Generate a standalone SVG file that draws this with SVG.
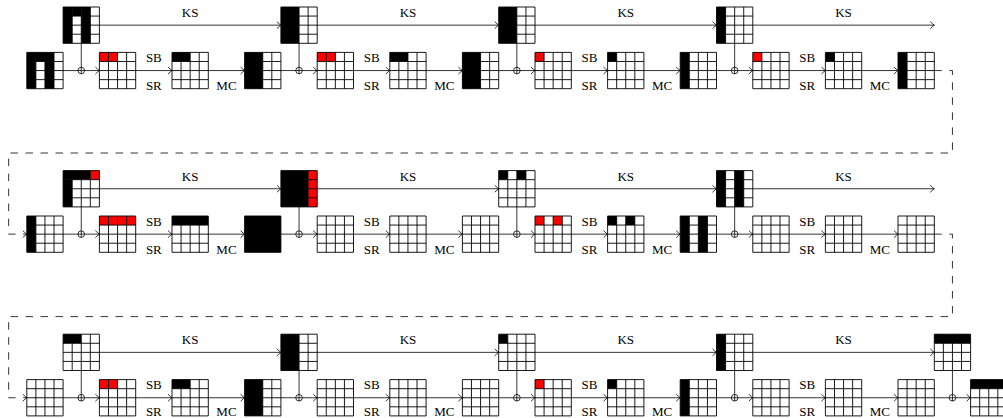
<svg xmlns="http://www.w3.org/2000/svg" xmlns:xlink="http://www.w3.org/1999/xlink" width="1003" height="418" viewBox="0 0 1003 418">
<style>
.b{fill:#000}
.r{fill:#f00}
.c{fill:none;stroke:#000;stroke-width:0.8}
.a{marker-end:url(#ah)}
.d{fill:none;stroke:#000;stroke-width:0.8;stroke-dasharray:7.5 7.5}
.x{fill:none;stroke:#000;stroke-width:0.8}
text{font-family:"Liberation Serif","DejaVu Serif",serif;font-size:13px;text-anchor:middle;fill:#000}
</style>
<defs>
<marker id="ah" markerUnits="userSpaceOnUse" markerWidth="10" markerHeight="10" viewBox="-5 -5 10 10" refX="0" refY="0" orient="auto" overflow="visible">
<path d="M-4,-3.5 Q-1.3,-0.8 0,0 Q-1.3,0.8 -4,3.5" fill="none" stroke="#000" stroke-width="0.8"/>
</marker>
<path id="grid" fill="none" stroke="#000" stroke-width="0.9" d="M0,0H36.3V36.3H0Z M9.075,0V36.3 M18.15,0V36.3 M27.225,0V36.3 M0,9.075H36.3 M0,18.15H36.3 M0,27.225H36.3"/>
</defs>
<rect width="1003" height="418" fill="#fff"/>

<g id="connectors">
<g class="c a">
<path d="M63.1,70.55H99.4"/><path d="M135.7,70.55H172"/><path d="M208.3,70.55H244.6"/><path d="M99.4,25.15H280.9"/>
<path d="M280.9,70.55H317.2"/><path d="M353.5,70.55H389.8"/><path d="M426.1,70.55H462.4"/><path d="M317.2,25.15H498.7"/>
<path d="M498.7,70.55H535"/><path d="M571.3,70.55H607.6"/><path d="M643.9,70.55H680.2"/><path d="M535,25.15H716.5"/>
<path d="M716.5,70.55H752.8"/><path d="M789.1,70.55H825.4"/><path d="M861.7,70.55H898"/><path d="M752.8,25.15H934.3"/>

<path d="M63.1,234.15H99.4"/><path d="M135.7,234.15H172"/><path d="M208.3,234.15H244.6"/><path d="M99.4,188.75H280.9"/>
<path d="M280.9,234.15H317.2"/><path d="M353.5,234.15H389.8"/><path d="M426.1,234.15H462.4"/><path d="M317.2,188.75H498.7"/>
<path d="M498.7,234.15H535"/><path d="M571.3,234.15H607.6"/><path d="M643.9,234.15H680.2"/><path d="M535,188.75H716.5"/>
<path d="M716.5,234.15H752.8"/><path d="M789.1,234.15H825.4"/><path d="M861.7,234.15H898"/><path d="M752.8,188.75H934.3"/>

<path d="M63.1,397.75H99.4"/><path d="M135.7,397.75H172"/><path d="M208.3,397.75H244.6"/><path d="M99.4,352.35H280.9"/>
<path d="M280.9,397.75H317.2"/><path d="M353.5,397.75H389.8"/><path d="M426.1,397.75H462.4"/><path d="M317.2,352.35H498.7"/>
<path d="M498.7,397.75H535"/><path d="M571.3,397.75H607.6"/><path d="M643.9,397.75H680.2"/><path d="M535,352.35H716.5"/>
<path d="M716.5,397.75H752.8"/><path d="M789.1,397.75H825.4"/><path d="M861.7,397.75H898"/><path d="M752.8,352.35H934.3"/>
<path d="M934.3,397.75H970.6"/>
</g>
<g class="c">
<path d="M81.25,43.3V73.85"/><path d="M299.05,43.3V73.85"/><path d="M516.85,43.3V73.85"/><path d="M734.65,43.3V73.85"/>
<path d="M81.25,206.9V237.45"/><path d="M299.05,206.9V237.45"/><path d="M516.85,206.9V237.45"/><path d="M734.65,206.9V237.45"/>
<path d="M81.25,370.5V401.05"/><path d="M299.05,370.5V401.05"/><path d="M516.85,370.5V401.05"/><path d="M734.65,370.5V401.05"/>
<path d="M952.45,370.5V401.05"/>
</g>
<g class="x">
<circle cx="81.25" cy="70.55" r="3.3"/><circle cx="299.05" cy="70.55" r="3.3"/><circle cx="516.85" cy="70.55" r="3.3"/><circle cx="734.65" cy="70.55" r="3.3"/>
<circle cx="81.25" cy="234.15" r="3.3"/><circle cx="299.05" cy="234.15" r="3.3"/><circle cx="516.85" cy="234.15" r="3.3"/><circle cx="734.65" cy="234.15" r="3.3"/>
<circle cx="81.25" cy="397.75" r="3.3"/><circle cx="299.05" cy="397.75" r="3.3"/><circle cx="516.85" cy="397.75" r="3.3"/><circle cx="734.65" cy="397.75" r="3.3"/>
<circle cx="952.45" cy="397.75" r="3.3"/>
</g>
<path class="d a" d="M934.3,70.55H952.45V153H8.65V234.15H26.8"/>
<path class="d a" d="M934.3,234.15H952.45V316.6H8.65V397.75H26.8"/>
</g>

<g id="labels">
<text x="190.15" y="17">KS</text><text x="407.95" y="17">KS</text><text x="625.75" y="17">KS</text><text x="843.55" y="17">KS</text>
<text x="153.85" y="62">SB</text><text x="371.65" y="62">SB</text><text x="589.45" y="62">SB</text><text x="807.25" y="62">SB</text>
<text x="153.85" y="90">SR</text><text x="371.65" y="90">SR</text><text x="589.45" y="90">SR</text><text x="807.25" y="90">SR</text>
<text x="226.45" y="90">MC</text><text x="444.25" y="90">MC</text><text x="662.05" y="90">MC</text><text x="879.85" y="90">MC</text>

<text x="190.15" y="180.6">KS</text><text x="407.95" y="180.6">KS</text><text x="625.75" y="180.6">KS</text><text x="843.55" y="180.6">KS</text>
<text x="153.85" y="225.6">SB</text><text x="371.65" y="225.6">SB</text><text x="589.45" y="225.6">SB</text><text x="807.25" y="225.6">SB</text>
<text x="153.85" y="253.6">SR</text><text x="371.65" y="253.6">SR</text><text x="589.45" y="253.6">SR</text><text x="807.25" y="253.6">SR</text>
<text x="226.45" y="253.6">MC</text><text x="444.25" y="253.6">MC</text><text x="662.05" y="253.6">MC</text><text x="879.85" y="253.6">MC</text>

<text x="190.15" y="344.2">KS</text><text x="407.95" y="344.2">KS</text><text x="625.75" y="344.2">KS</text><text x="843.55" y="344.2">KS</text>
<text x="153.85" y="389.2">SB</text><text x="371.65" y="389.2">SB</text><text x="589.45" y="389.2">SB</text><text x="807.25" y="389.2">SB</text>
<text x="153.85" y="416">SR</text><text x="371.65" y="416">SR</text><text x="589.45" y="416">SR</text><text x="807.25" y="416">SR</text>
<text x="226.45" y="416">MC</text><text x="444.25" y="416">MC</text><text x="662.05" y="416">MC</text><text x="879.85" y="416">MC</text>
</g>

<!-- Row 1 -->
<g id="r1-s0" transform="translate(26.8,52.4)"><rect class="b" width="9.075" height="36.3"/><rect class="b" x="18.15" width="9.075" height="36.3"/><rect class="b" x="9.075" width="9.075" height="9.075"/><use xlink:href="#grid"/></g>
<g id="r1-k0" transform="translate(63.1,7)"><rect class="b" width="9.075" height="36.3"/><rect class="b" x="18.15" width="9.075" height="36.3"/><rect class="b" x="9.075" width="9.075" height="9.075"/><use xlink:href="#grid"/></g>
<g id="r1-x0" transform="translate(99.4,52.4)"><rect class="r" width="18.15" height="9.075"/><use xlink:href="#grid"/></g>
<g id="r1-sb0" transform="translate(172,52.4)"><rect class="b" width="18.15" height="9.075"/><use xlink:href="#grid"/></g>
<g id="r1-mc0" transform="translate(244.6,52.4)"><rect class="b" width="18.15" height="36.3"/><use xlink:href="#grid"/></g>
<g id="r1-k1" transform="translate(280.9,7)"><rect class="b" width="18.15" height="36.3"/><use xlink:href="#grid"/></g>
<g id="r1-x1" transform="translate(317.2,52.4)"><rect class="r" width="18.15" height="9.075"/><use xlink:href="#grid"/></g>
<g id="r1-sb1" transform="translate(389.8,52.4)"><rect class="b" width="18.15" height="9.075"/><use xlink:href="#grid"/></g>
<g id="r1-mc1" transform="translate(462.4,52.4)"><rect class="b" width="18.15" height="36.3"/><use xlink:href="#grid"/></g>
<g id="r1-k2" transform="translate(498.7,7)"><rect class="b" width="18.15" height="36.3"/><use xlink:href="#grid"/></g>
<g id="r1-x2" transform="translate(535,52.4)"><rect class="r" width="9.075" height="9.075"/><use xlink:href="#grid"/></g>
<g id="r1-sb2" transform="translate(607.6,52.4)"><rect class="b" width="9.075" height="9.075"/><use xlink:href="#grid"/></g>
<g id="r1-mc2" transform="translate(680.2,52.4)"><rect class="b" width="9.075" height="36.3"/><use xlink:href="#grid"/></g>
<g id="r1-k3" transform="translate(716.5,7)"><rect class="b" width="9.075" height="36.3"/><use xlink:href="#grid"/></g>
<g id="r1-x3" transform="translate(752.8,52.4)"><rect class="r" width="9.075" height="9.075"/><use xlink:href="#grid"/></g>
<g id="r1-sb3" transform="translate(825.4,52.4)"><rect class="b" width="9.075" height="9.075"/><use xlink:href="#grid"/></g>
<g id="r1-mc3" transform="translate(898,52.4)"><rect class="b" width="9.075" height="36.3"/><use xlink:href="#grid"/></g>

<!-- Row 2 -->
<g id="r2-s0" transform="translate(26.8,216)"><rect class="b" width="9.075" height="36.3"/><use xlink:href="#grid"/></g>
<g id="r2-k0" transform="translate(63.1,170.6)"><rect class="b" width="27.225" height="9.075"/><rect class="b" y="9.075" width="9.075" height="27.225"/><rect class="r" x="27.225" width="9.075" height="9.075"/><use xlink:href="#grid"/></g>
<g id="r2-x0" transform="translate(99.4,216)"><rect class="r" width="36.3" height="9.075"/><use xlink:href="#grid"/></g>
<g id="r2-sb0" transform="translate(172,216)"><rect class="b" width="36.3" height="9.075"/><use xlink:href="#grid"/></g>
<g id="r2-mc0" transform="translate(244.6,216)"><rect class="b" width="36.3" height="36.3"/><use xlink:href="#grid"/></g>
<g id="r2-k1" transform="translate(280.9,170.6)"><rect class="b" width="27.225" height="36.3"/><rect class="r" x="27.225" width="9.075" height="36.3"/><use xlink:href="#grid"/></g>
<g id="r2-x1" transform="translate(317.2,216)"><use xlink:href="#grid"/></g>
<g id="r2-sb1" transform="translate(389.8,216)"><use xlink:href="#grid"/></g>
<g id="r2-mc1" transform="translate(462.4,216)"><use xlink:href="#grid"/></g>
<g id="r2-k2" transform="translate(498.7,170.6)"><rect class="b" width="9.075" height="9.075"/><rect class="b" x="18.15" width="9.075" height="9.075"/><use xlink:href="#grid"/></g>
<g id="r2-x2" transform="translate(535,216)"><rect class="r" width="9.075" height="9.075"/><rect class="r" x="18.15" width="9.075" height="9.075"/><use xlink:href="#grid"/></g>
<g id="r2-sb2" transform="translate(607.6,216)"><rect class="b" width="9.075" height="9.075"/><rect class="b" x="18.15" width="9.075" height="9.075"/><use xlink:href="#grid"/></g>
<g id="r2-mc2" transform="translate(680.2,216)"><rect class="b" width="9.075" height="36.3"/><rect class="b" x="18.15" width="9.075" height="36.3"/><use xlink:href="#grid"/></g>
<g id="r2-k3" transform="translate(716.5,170.6)"><rect class="b" width="9.075" height="36.3"/><rect class="b" x="18.15" width="9.075" height="36.3"/><use xlink:href="#grid"/></g>
<g id="r2-x3" transform="translate(752.8,216)"><use xlink:href="#grid"/></g>
<g id="r2-sb3" transform="translate(825.4,216)"><use xlink:href="#grid"/></g>
<g id="r2-mc3" transform="translate(898,216)"><use xlink:href="#grid"/></g>

<!-- Row 3 -->
<g id="r3-s0" transform="translate(26.8,379.6)"><use xlink:href="#grid"/></g>
<g id="r3-k0" transform="translate(63.1,334.2)"><rect class="b" width="18.15" height="9.075"/><use xlink:href="#grid"/></g>
<g id="r3-x0" transform="translate(99.4,379.6)"><rect class="r" width="18.15" height="9.075"/><use xlink:href="#grid"/></g>
<g id="r3-sb0" transform="translate(172,379.6)"><rect class="b" width="18.15" height="9.075"/><use xlink:href="#grid"/></g>
<g id="r3-mc0" transform="translate(244.6,379.6)"><rect class="b" width="18.15" height="36.3"/><use xlink:href="#grid"/></g>
<g id="r3-k1" transform="translate(280.9,334.2)"><rect class="b" width="18.15" height="36.3"/><use xlink:href="#grid"/></g>
<g id="r3-x1" transform="translate(317.2,379.6)"><use xlink:href="#grid"/></g>
<g id="r3-sb1" transform="translate(389.8,379.6)"><use xlink:href="#grid"/></g>
<g id="r3-mc1" transform="translate(462.4,379.6)"><use xlink:href="#grid"/></g>
<g id="r3-k2" transform="translate(498.7,334.2)"><rect class="b" width="9.075" height="9.075"/><use xlink:href="#grid"/></g>
<g id="r3-x2" transform="translate(535,379.6)"><rect class="r" width="9.075" height="9.075"/><use xlink:href="#grid"/></g>
<g id="r3-sb2" transform="translate(607.6,379.6)"><rect class="b" width="9.075" height="9.075"/><use xlink:href="#grid"/></g>
<g id="r3-mc2" transform="translate(680.2,379.6)"><rect class="b" width="9.075" height="36.3"/><use xlink:href="#grid"/></g>
<g id="r3-k3" transform="translate(716.5,334.2)"><rect class="b" width="9.075" height="36.3"/><use xlink:href="#grid"/></g>
<g id="r3-x3" transform="translate(752.8,379.6)"><use xlink:href="#grid"/></g>
<g id="r3-sb3" transform="translate(825.4,379.6)"><use xlink:href="#grid"/></g>
<g id="r3-mc3" transform="translate(898,379.6)"><use xlink:href="#grid"/></g>
<g id="r3-k4" transform="translate(934.3,334.2)"><rect class="b" width="36.3" height="9.075"/><use xlink:href="#grid"/></g>
<g id="r3-out" transform="translate(970.6,379.6)"><rect class="b" width="36.3" height="9.075"/><use xlink:href="#grid"/></g>
</svg>
